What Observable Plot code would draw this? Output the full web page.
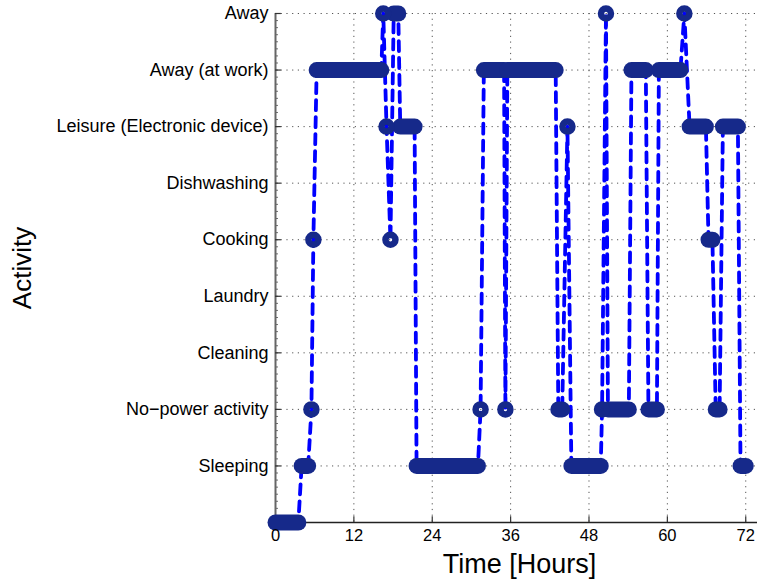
<!DOCTYPE html>
<html><head><meta charset="utf-8">
<script src="https://cdn.jsdelivr.net/npm/d3@7"></script>
<script src="https://cdn.jsdelivr.net/npm/@observablehq/plot@0.6"></script>
<style>body{margin:0;background:#fff} svg{display:block}</style>
</head><body><div id="chart"></div>
<script>
// Activity levels (index = level on the y axis)
const activityLabels = ["", "Sleeping", "No−power activity", "Cleaning", "Laundry", "Cooking", "Dishwashing", "Leisure (Electronic device)", "Away (at work)", "Away"];
const xTicks = [0, 12, 24, 36, 48, 60, 72];
const yTicks = [1, 2, 3, 4, 5, 6, 7, 8, 9];
// Episodes in time order: start hour, end hour, activity level
const epStart = [0, 4.0, 5.5, 5.8, 6.3, 16.5, 17.0, 17.6, 18.1, 19.1, 21.6, 31.4, 31.9, 35.2, 35.5, 43.3, 44.7, 45.3, 50.0, 50.6, 50.9, 54.5, 57.1, 58.7, 62.6, 63.4, 66.3, 67.4, 68.5, 71.2];
const epEnd   = [3.5, 5.0, 5.5, 5.8, 16.2, 16.5, 17.0, 17.6, 18.8, 21.3, 31.0, 31.4, 35.0, 35.2, 42.9, 43.9, 44.7, 49.8, 50.0, 50.6, 54.1, 56.7, 58.4, 62.0, 62.6, 65.9, 66.9, 68.0, 70.8, 72.0];
const epLevel = [0, 1, 2, 5, 8, 9, 7, 5, 9, 7, 1, 2, 8, 2, 8, 2, 7, 1, 2, 9, 2, 8, 2, 8, 9, 7, 5, 2, 7, 1];

const episodes = epStart.map((s, i) => ({start: s, end: epEnd[i], level: epLevel[i]}));
const path = [];
episodes.forEach(e => {
  path.push({t: e.start, level: e.level});
  if (e.end > e.start) path.push({t: e.end, level: e.level});
});
const bars = episodes.filter(e => e.end > e.start);
const rings = episodes.filter(e => e.end === e.start);
const minorY = d3.range(0, 9.001, 0.125);

const navy = "#16298a";
const chart = Plot.plot({
  width: 757, height: 579,
  marginLeft: 275, marginRight: 0, marginTop: 13, marginBottom: 57,
  x: {domain: [0, 73.8]},
  y: {domain: [0, 9]},
  style: {fontFamily: "'Liberation Sans', Arial, sans-serif", fontSize: "18px", color: "#000", background: "#fff"},
  marks: [
    Plot.ruleY(yTicks, {stroke: "#555", strokeWidth: 1, strokeDasharray: "1.2,4.5"}),
    Plot.ruleX(xTicks.filter(d => d > 0), {stroke: "#555", strokeWidth: 1, strokeDasharray: "1.2,4.5"}),
    Plot.ruleX([0], {stroke: "#666", strokeWidth: 2}),
    Plot.ruleY([0], {stroke: "#222", strokeWidth: 1.5}),
    Plot.ruleY(minorY, {x1: 0, x2: 0.45, stroke: "#666", strokeWidth: 1}),
    Plot.ruleY(yTicks, {x1: 0, x2: 0.9, stroke: "#333", strokeWidth: 1.2}),
    Plot.ruleX(xTicks, {y1: 0, y2: 0.1, stroke: "#333", strokeWidth: 1.2}),
    Plot.line(path, {x: "t", y: "level", stroke: "#0000ff", strokeWidth: 3.8, strokeDasharray: "10,7"}),
    Plot.link(bars, {x1: "start", x2: "end", y1: "level", y2: "level", stroke: navy, strokeWidth: 16, strokeLinecap: "round"}),
    Plot.dot(rings, {x: "start", y: "level", r: 5, stroke: navy, strokeWidth: 6.5, fill: "none"}),
    Plot.axisY({ticks: yTicks, tickFormat: d => activityLabels[d], tickSize: 0, tickPadding: 7, label: null}),
    Plot.axisX({ticks: xTicks, tickSize: 0, tickPadding: 7, label: null, fontSize: 16.5}),
    Plot.text(["Activity"], {frameAnchor: "left", dx: -253, rotate: -90, textAnchor: "middle", lineAnchor: "middle", fontSize: 26}),
    Plot.text(["Time [Hours]"], {frameAnchor: "bottom", dx: 3, dy: 42, textAnchor: "middle", lineAnchor: "middle", fontSize: 27})
  ]
});
document.getElementById("chart").append(chart);
</script>
</body></html>
